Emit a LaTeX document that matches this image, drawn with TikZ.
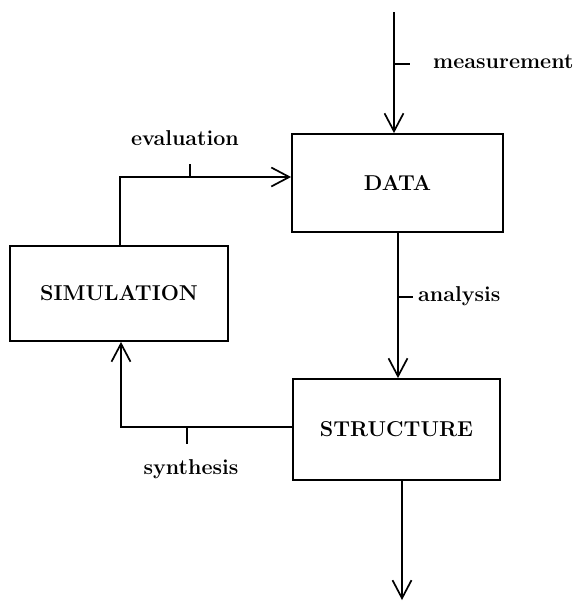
\documentclass[tikz,border=0pt]{standalone}
\usetikzlibrary{arrows.meta}
\begin{document}
\begin{tikzpicture}[x=1pt,y=-1pt,
  box/.style={draw,line width=1.8pt,rectangle,inner sep=0pt,font=\fontsize{21.5}{25}\selectfont\bfseries},
  conn/.style={line width=1.7pt},
  arr/.style={conn,-{Straight Barb[length=18pt,width=19pt,line width=1.7pt]}},
  tick/.style={line width=1.7pt},
  lbl/.style={font=\fontsize{21.5}{25}\selectfont\bfseries,inner sep=0pt}]
\useasboundingbox (0,0) rectangle (576,603);
\node[box,minimum width=211pt,minimum height=98pt] (data) at (397.5,183) {DATA};
\node[box,minimum width=218pt,minimum height=95pt] (sim) at (119,293.5) {SIMULATION};
\node[box,minimum width=207pt,minimum height=101pt] (struct) at (396.5,429.5) {STRUCTURE};
\coordinate (top) at (394,12);
\coordinate (ev) at (120,177);
\coordinate (syn) at (121,427);
\coordinate (out) at (402,600);
\coordinate (an) at (398,0);
% connectors
\draw[arr] (top) -- (top |- data.north);
\draw[arr] (sim.north -| ev) -- (ev) -- (ev -| data.west);
\draw[arr] (data.south -| an) -- (an |- struct.north);
\draw[arr] (struct.west |- syn) -- (syn) -- (syn |- sim.south);
\draw[arr] (struct.south -| out) -- (out);
% ticks
\coordinate (t1) at (394,64);
\coordinate (t2) at (190,177);
\coordinate (t3) at (398,297);
\coordinate (t4) at (187,427);
\draw[tick] (t1) -- ++(16,0);
\draw[tick] (t2) -- ++(0,-13);
\draw[tick] (t3) -- ++(15,0);
\draw[tick] (t4) -- ++(0,17);
% labels
\node[lbl,anchor=west] (lm) at (433,62) {measurement};
\node[lbl] (le) at (185,138) {evaluation};
\node[lbl,anchor=west] (la) at (418,296) {analysis};
\node[lbl] (ls) at (191,469) {synthesis};
\end{tikzpicture}
\end{document}
